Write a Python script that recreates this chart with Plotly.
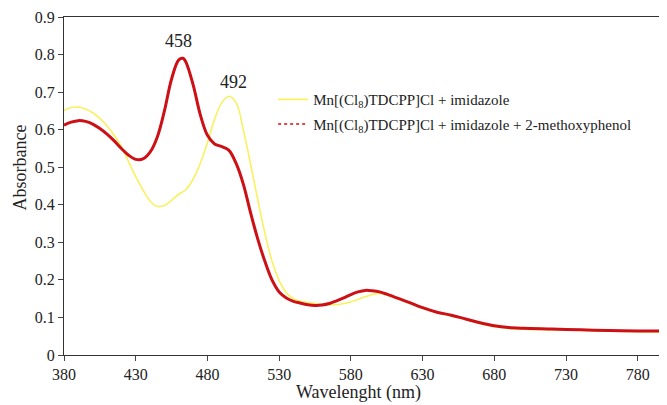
import plotly.graph_objects as go

wl_yellow = [380, 385, 390, 395, 400, 405, 410, 415, 420, 425, 430, 435, 440, 445, 450, 455, 460, 465, 470,
             475, 480, 485, 490, 495, 500, 505, 510, 515, 520, 525, 530, 535, 540, 545, 550, 555, 560, 565,
             570, 575, 580, 585, 590, 595, 600, 605, 610, 615, 620, 630, 640, 650, 660, 670, 680, 690, 700,
             720, 740, 760, 780, 800]
abs_yellow = [0.651, 0.659, 0.660, 0.655, 0.645, 0.630, 0.610, 0.585, 0.555, 0.515, 0.475, 0.440, 0.410,
              0.396, 0.398, 0.412, 0.428, 0.440, 0.468, 0.510, 0.565, 0.628, 0.672, 0.689, 0.672, 0.600,
              0.510, 0.415, 0.325, 0.250, 0.198, 0.166, 0.150, 0.143, 0.140, 0.137, 0.135, 0.134, 0.134,
              0.137, 0.142, 0.148, 0.155, 0.161, 0.164, 0.160, 0.153, 0.146, 0.139, 0.124, 0.113, 0.104,
              0.095, 0.084, 0.075, 0.071, 0.069, 0.067, 0.066, 0.064, 0.062, 0.061]

wl_red = [380, 385, 390, 395, 400, 405, 410, 415, 420, 425, 430, 435, 440, 445, 450, 455, 460, 463, 465,
          470, 475, 480, 485, 490, 495, 500, 505, 510, 515, 520, 525, 530, 535, 540, 545, 550, 555, 560,
          565, 570, 575, 580, 585, 590, 595, 600, 605, 610, 615, 620, 630, 640, 650, 660, 670, 680, 690,
          700, 720, 740, 760, 780, 800]
abs_red = [0.612, 0.620, 0.624, 0.622, 0.615, 0.603, 0.588, 0.570, 0.550, 0.532, 0.521, 0.522, 0.540,
           0.580, 0.650, 0.735, 0.786, 0.790, 0.780, 0.720, 0.640, 0.585, 0.562, 0.555, 0.545, 0.510,
           0.455, 0.380, 0.310, 0.250, 0.200, 0.168, 0.152, 0.143, 0.138, 0.134, 0.132, 0.133, 0.137,
           0.144, 0.152, 0.161, 0.168, 0.172, 0.171, 0.168, 0.162, 0.155, 0.148, 0.141, 0.126, 0.114,
           0.106, 0.096, 0.086, 0.078, 0.073, 0.071, 0.069, 0.067, 0.065, 0.064, 0.064]

name_yellow = "Mn[(Cl<sub>8</sub>)TDCPP]Cl + imidazole"
name_red = "Mn[(Cl<sub>8</sub>)TDCPP]Cl + imidazole + 2-methoxyphenol"

peak_labels = ["458", "492"]
peak_label_x = [460, 498]
peak_label_y = [0.835, 0.727]

x_ticks = [380, 430, 480, 530, 580, 630, 680, 730, 780]
y_ticks = [0, 0.1, 0.2, 0.3, 0.4, 0.5, 0.6, 0.7, 0.8, 0.9]
y_ticktext = ["0", "0.1", "0.2", "0.3", "0.4", "0.5", "0.6", "0.7", "0.8", "0.9"]

YELLOW = "#F8F160"
RED = "#CC1016"
FONT = "Liberation Serif"
TXT = "#222222"

fig = go.Figure()
fig.add_trace(go.Scatter(x=wl_yellow, y=abs_yellow, mode="lines", name=name_yellow, legendgroup="a",
                         line=dict(color=YELLOW, width=1.6, shape="spline")))
fig.add_trace(go.Scatter(x=wl_red, y=abs_red, mode="lines", name=name_red, showlegend=False,
                         legendgroup="b", line=dict(color=RED, width=3, shape="spline")))
# legend entry with dotted sample for the red series
fig.add_trace(go.Scatter(x=[None], y=[None], mode="lines", name=name_red, legendgroup="b",
                         line=dict(color=RED, width=1.5, dash="dot")))

for lab, px, py in zip(peak_labels, peak_label_x, peak_label_y):
    fig.add_annotation(x=px, y=py, text=lab, showarrow=False, xanchor="center", yanchor="middle",
                       font=dict(family=FONT, size=18, color=TXT))

# axis titles
fig.add_annotation(x=0.49, y=-0.112, xref="paper", yref="paper", text="Wavelenght (nm)",
                   showarrow=False, xanchor="center", yanchor="middle",
                   font=dict(family=FONT, size=18, color=TXT))
fig.add_annotation(x=(20 - 64) / 601, y=0.555, xref="paper", yref="paper", text="Absorbance",
                   textangle=-90, showarrow=False, xanchor="center", yanchor="middle",
                   font=dict(family=FONT, size=18, color=TXT))

# the page body has an 8px default margin, so the figure is sized to fit the window from (8, 8)
fig.update_layout(
    width=659, height=397,
    margin=dict(l=56, r=2, t=9, b=50),
    paper_bgcolor="white", plot_bgcolor="white",
    font=dict(family=FONT, size=16, color=TXT),
    showlegend=True,
    legend=dict(x=0.348, y=0.72, xanchor="left", yanchor="middle", traceorder="grouped",
                bgcolor="rgba(0,0,0,0)", font=dict(family=FONT, size=15, color=TXT),
                tracegroupgap=2, itemwidth=30),
    xaxis=dict(range=[380, 799], tickvals=x_ticks, ticks="outside", ticklen=5,
               showline=True, linecolor="#333", linewidth=1.2, mirror=True, showgrid=False,
               zeroline=False, tickfont=dict(family=FONT, size=16, color=TXT)),
    yaxis=dict(range=[0, 0.9], tickvals=y_ticks, ticktext=y_ticktext, ticks="outside", ticklen=5,
               showline=True, linecolor="#333", linewidth=1.2, mirror=True, showgrid=False,
               zeroline=False, tickfont=dict(family=FONT, size=16, color=TXT)),
)

fig.write_html("out.html")
